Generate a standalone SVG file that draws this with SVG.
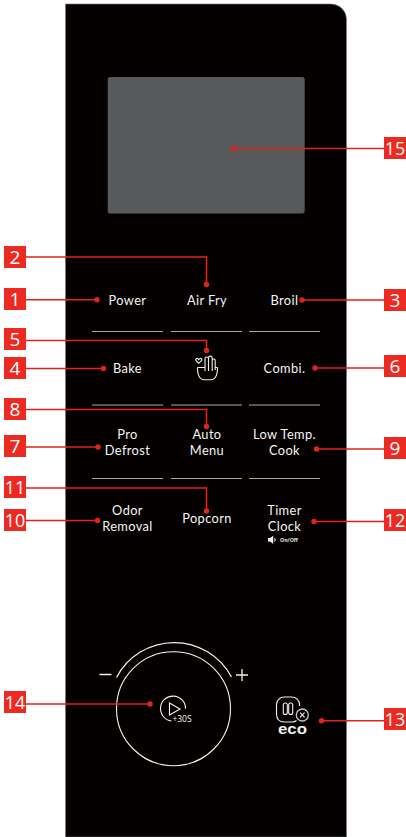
<svg xmlns="http://www.w3.org/2000/svg" width="406" height="837" viewBox="0 0 406 837">
<style>
.lb{font-family:Lato,"Open Sans",sans-serif;font-size:12.800px;letter-spacing:.4px;fill:#f4f4f4;text-anchor:middle}
.bg{fill:#ec2a22}
.bt{font-family:"Open Sans","Noto Sans",sans-serif;font-size:19px;fill:#fff;text-anchor:middle}
.ld{fill:none;stroke:#e2231a;stroke-width:1.6}
.dt{fill:#e2231a}
.sep{stroke:#a8a8a8;stroke-width:1;fill:none}
.ic{fill:none;stroke:#f0f0f0;stroke-width:1.100}
</style>
<rect width="406" height="837" fill="#fff"/>
<g id="panel">
<path d="M65.500 837V4H331a15.500 15.500 0 0 1 15.500 15.500V837Z" fill="#040000" stroke="#777" stroke-width=".6"/>
<rect x="107.700" y="77" width="197" height="136.500" rx="2.500" fill="#58595b"/>
<path class="sep" d="M92 331.500h71M171 331.500h71M249 331.500h71M92 405h71M171 405h71M249 405h71M92 478.500h71M171 478.500h71M249 478.500h71"/>
</g>
<g id="labels">
<text class="lb" x="127.500" y="305">Power</text>
<text class="lb" x="207" y="305">Air Fry</text>
<text class="lb" x="284.500" y="305">Broil</text>
<text class="lb" x="127.500" y="372.700">Bake</text>
<text class="lb" x="284.500" y="372.700">Combi.</text>
<text class="lb" x="127.500" y="439.200">Pro</text><text class="lb" x="127.500" y="454.800">Defrost</text>
<text class="lb" x="207" y="439.200">Auto</text><text class="lb" x="207" y="454.800">Menu</text>
<text class="lb" x="284.500" y="439.200">Low Temp.</text><text class="lb" x="284.500" y="454.800">Cook</text>
<text class="lb" x="127.500" y="515.100">Odor</text><text class="lb" x="127.500" y="530.700">Removal</text>
<text class="lb" x="207" y="523">Popcorn</text>
<text class="lb" x="284.500" y="515.100">Timer</text><text class="lb" x="284.500" y="530.700">Clock</text>
</g>
<g id="icon-hand" class="ic">
<path d="M198.800 363.300l-2.700-2.700c-1.200-1.400.8-3 2-1.700l.7.700.7-.7c1.200-1.300 3.200.3 2 1.700Z"/>
<path d="M197.500 367.500h7.500M215 367.500h2.500M197.500 367.500c0 5 1 8.500 2.500 10.300.8 1.200 2 1.900 3.500 1.900h8c1.500 0 2.700-.7 3.500-1.900 1.500-1.800 2.500-5.300 2.500-10.300"/>
<path d="M205 371v-12.500c0-2 3.500-2 3.500 0M208.500 371v-13c0-2.500 3.700-2.500 3.700 0v13M212.200 360.500c0-2 3-2 3 0v9.500"/>
</g>
<g id="icon-sound">
<path d="M268 538h2.200l3-2.500v8.500l-3-2.500H268Z" fill="#f0f0f0"/>
<path class="ic" stroke-width=".7" d="M274.500 538c.8 1 .8 2.500 0 3.500"/>
<text x="280" y="541.800" font-family="'Open Sans',sans-serif" font-size="5.200" font-weight="700" fill="#e4e4e4">On/Off</text>
</g>
<g id="knob">
<circle class="ic" cx="173.500" cy="708.700" r="57"/>
<path d="M116.500 677.500A65 65 0 0 1 231.500 677" fill="none" stroke="#f0f0f0" stroke-width="1.300"/>
<path d="M99.500 674.500h12M236 675h12M242 669v12" stroke="#f0f0f0" stroke-width="1.300" fill="none"/>
<path class="ic" d="M171.500 721A12.500 12.500 0 1 1 185.500 708.700"/>
<path class="ic" d="M169.500 703l10.500 6-10.500 6Z"/>
<text x="182" y="721.500" font-family="'Open Sans',sans-serif" font-size="8.500" fill="#f0f0f0" text-anchor="middle">+30S</text>
</g>
<g id="eco">
<path class="ic" stroke-width="1.300" d="M299.500 706v-1c0-5-3.500-8-8-8h-7c-5 0-8 3.500-8 8v9c0 5 3 8 8 8h8c2 0 3-.5 4-1.500"/>
<rect class="ic" x="283.300" y="703" width="4" height="11.500" rx="2"/>
<rect class="ic" x="288.700" y="703" width="4" height="11.500" rx="2"/>
<circle cx="302.300" cy="715" r="6" fill="none" stroke="#c4c4c4" stroke-width="1.300"/>
<path class="ic" d="M300 712.700l4.600 4.600M304.600 712.700l-4.600 4.600"/>
<text x="292.500" y="734" font-family="'Liberation Sans',sans-serif" font-size="15" font-weight="700" fill="#f0f0f0" text-anchor="middle" textLength="29" lengthAdjust="spacingAndGlyphs">eco</text>
</g>
<g id="connectors">
<path class="ld" d="M26 257H206.500V284.500M26 299.800H97M26 340.500H206.500V350.500M26 368.500H103.500M26 409.500H206.500V426.500M26 447H98M26 488H206.500V511M26 520.500H97.500M26 704H150M384 300H302M384 368H315M384 449H316.500M384 521.500H314M384 720.700H321.500M384 148.500H233.500"/>
<g class="dt">
<circle cx="206.500" cy="284.500" r="2.700"/><circle cx="97" cy="299.800" r="2.700"/><circle cx="206.500" cy="350.500" r="2.700"/><circle cx="103.500" cy="368.500" r="2.700"/><circle cx="206.500" cy="426.500" r="2.700"/><circle cx="98" cy="447" r="2.700"/><circle cx="206.500" cy="511" r="2.700"/><circle cx="97.500" cy="520.500" r="2.700"/><circle cx="150" cy="704" r="2.700"/><circle cx="302" cy="300" r="2.700"/><circle cx="315" cy="368" r="2.700"/><circle cx="316.500" cy="449" r="2.700"/><circle cx="314" cy="521.500" r="2.700"/><circle cx="321.500" cy="720.700" r="2.700"/><circle cx="233.500" cy="148.500" r="2.700"/>
</g>
</g>
<g id="badge-1"><rect class="bg" x="4" y="288" width="22" height="22"/><text class="bt" x="15" y="306">1</text></g>
<g id="badge-2"><rect class="bg" x="4" y="246" width="22" height="22"/><text class="bt" x="15" y="264">2</text></g>
<g id="badge-3"><rect class="bg" x="384" y="289" width="22" height="22"/><text class="bt" x="395" y="307">3</text></g>
<g id="badge-4"><rect class="bg" x="4" y="357" width="22" height="22"/><text class="bt" x="15" y="375">4</text></g>
<g id="badge-5"><rect class="bg" x="4" y="328" width="22" height="22"/><text class="bt" x="15" y="346">5</text></g>
<g id="badge-6"><rect class="bg" x="384" y="355" width="22" height="22"/><text class="bt" x="395" y="373">6</text></g>
<g id="badge-7"><rect class="bg" x="4" y="435" width="22" height="22"/><text class="bt" x="15" y="453">7</text></g>
<g id="badge-8"><rect class="bg" x="4" y="398" width="22" height="22"/><text class="bt" x="15" y="416">8</text></g>
<g id="badge-9"><rect class="bg" x="384" y="437" width="22" height="22"/><text class="bt" x="395" y="455">9</text></g>
<g id="badge-10"><rect class="bg" x="4" y="509" width="22" height="22"/><text class="bt" x="15" y="527" textLength="20.500" lengthAdjust="spacingAndGlyphs">10</text></g>
<g id="badge-11"><rect class="bg" x="4" y="476" width="22" height="22"/><text class="bt" x="15" y="494" textLength="20.500" lengthAdjust="spacingAndGlyphs">11</text></g>
<g id="badge-12"><rect class="bg" x="384" y="509" width="22" height="22"/><text class="bt" x="395" y="527" textLength="20.500" lengthAdjust="spacingAndGlyphs">12</text></g>
<g id="badge-13"><rect class="bg" x="384" y="708" width="22" height="22"/><text class="bt" x="395" y="726" textLength="20.500" lengthAdjust="spacingAndGlyphs">13</text></g>
<g id="badge-14"><rect class="bg" x="4" y="691" width="22" height="22"/><text class="bt" x="15" y="709" textLength="20.500" lengthAdjust="spacingAndGlyphs">14</text></g>
<g id="badge-15"><rect class="bg" x="384" y="137" width="22" height="22"/><text class="bt" x="395" y="155" textLength="20.500" lengthAdjust="spacingAndGlyphs">15</text></g>
</svg>
